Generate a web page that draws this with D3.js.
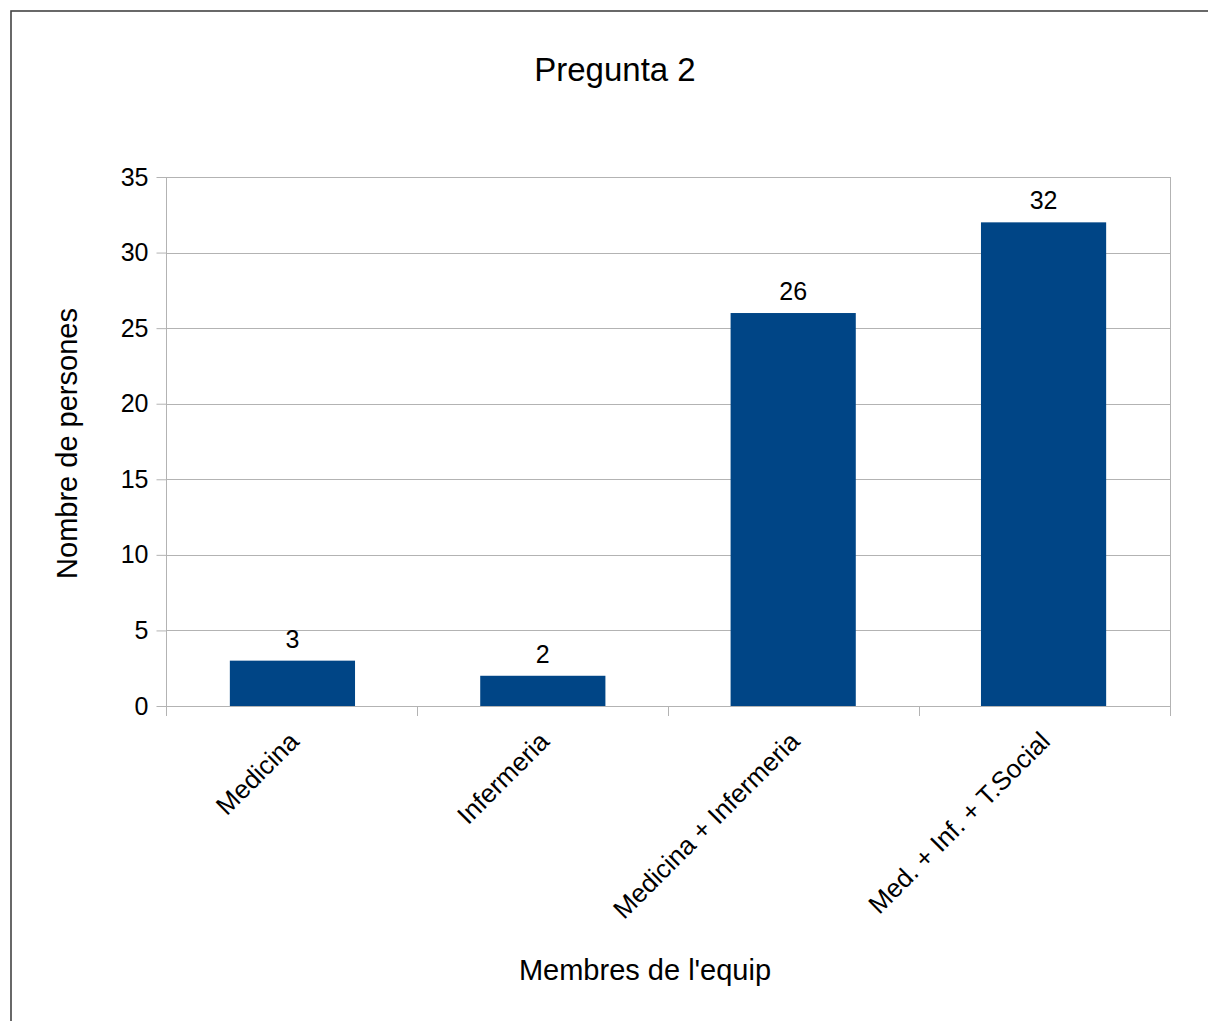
<!DOCTYPE html>
<html>
<head>
<meta charset="utf-8">
<script src="https://cdn.jsdelivr.net/npm/d3@7"></script>
<style>
  html, body { margin: 0; padding: 0; background: #fff; }
  svg { display: block; font-family: "Liberation Sans", Arial, sans-serif; }
</style>
</head>
<body>
<script>
// Survey answers: team members per respondent group
const categories = ["Medicina", "Infermeria", "Medicina + Infermeria", "Med. + Inf. + T.Social"];
const values = [3, 2, 26, 32];
const yTicks = [0, 5, 10, 15, 20, 25, 30, 35];
const chartTitle = "Pregunta 2";
const xTitle = "Membres de l'equip";
const yTitle = "Nombre de persones";

const W = 1208, H = 1021;
const plot = { left: 166, right: 1170, top: 177, bottom: 706 };

const svg = d3.select("body").append("svg")
  .attr("width", W).attr("height", H);

// outer frame (extends past the right and bottom edges)
svg.append("rect")
  .attr("x", 11).attr("y", 11)
  .attr("width", W + 20).attr("height", H + 20)
  .attr("fill", "#fff")
  .attr("stroke", "#444").attr("stroke-width", 1.6);

const x = d3.scaleBand()
  .domain(categories)
  .range([plot.left, plot.right])
  .paddingInner(0.5).paddingOuter(0.255);

const y = d3.scaleLinear().domain([0, 35]).range([plot.bottom, plot.top]);

const grid = "#b3b3b3";

// horizontal grid lines
svg.append("g").selectAll("line").data(yTicks).join("line")
  .attr("x1", plot.left).attr("x2", plot.right)
  .attr("y1", d => Math.round(y(d)) + 0.5).attr("y2", d => Math.round(y(d)) + 0.5)
  .attr("stroke", grid).attr("stroke-width", 1);

// right edge of plot area
svg.append("line")
  .attr("x1", plot.right + 0.5).attr("x2", plot.right + 0.5)
  .attr("y1", plot.top).attr("y2", plot.bottom + 10)
  .attr("stroke", grid);

// y axis
const yAxis = d3.axisLeft(y).tickValues(yTicks).tickSize(10).tickPadding(8);
const gy = svg.append("g").attr("transform", `translate(${plot.left + 0.5},0)`).call(yAxis);
gy.select(".domain").remove();
gy.selectAll(".tick line").attr("stroke", grid);
gy.selectAll(".tick text")
  .attr("font-size", 25).attr("fill", "#000")
  .attr("font-family", "Liberation Sans, Arial, sans-serif");
gy.append("line")
  .attr("x1", 0).attr("x2", 0)
  .attr("y1", plot.top).attr("y2", plot.bottom + 10)
  .attr("stroke", grid);

// x axis: ticks at category boundaries
const step = (plot.right - plot.left) / categories.length;
const boundaries = d3.range(categories.length + 1).map(i => plot.left + i * step);
svg.append("g").selectAll("line").data(boundaries).join("line")
  .attr("x1", d => Math.round(d) + 0.5).attr("x2", d => Math.round(d) + 0.5)
  .attr("y1", plot.bottom).attr("y2", plot.bottom + 10)
  .attr("stroke", grid);

// bars
svg.append("g").selectAll("rect").data(values).join("rect")
  .attr("x", (d, i) => x(categories[i]))
  .attr("y", d => y(d))
  .attr("width", x.bandwidth())
  .attr("height", d => y(0) - y(d))
  .attr("fill", "#004586");

// value labels
svg.append("g").selectAll("text").data(values).join("text")
  .attr("x", (d, i) => x(categories[i]) + x.bandwidth() / 2)
  .attr("y", d => y(d) - 13)
  .attr("text-anchor", "middle")
  .attr("font-size", 25).attr("fill", "#000")
  .text(d => d);

// rotated category labels
svg.append("g").selectAll("text").data(categories).join("text")
  .attr("transform", d => `translate(${x(d) + x.bandwidth() / 2 + 8},${plot.bottom + 37}) rotate(-45)`)
  .attr("text-anchor", "end")
  .attr("font-size", 26).attr("fill", "#000")
  .text(d => d);

// titles
svg.append("text")
  .attr("x", 615).attr("y", 81)
  .attr("text-anchor", "middle")
  .attr("font-size", 33).attr("fill", "#000")
  .text(chartTitle);

svg.append("text")
  .attr("x", 645).attr("y", 980)
  .attr("text-anchor", "middle")
  .attr("font-size", 29).attr("fill", "#000")
  .text(xTitle);

svg.append("text")
  .attr("transform", `translate(77,${(plot.top + plot.bottom) / 2 + 2}) rotate(-90)`)
  .attr("text-anchor", "middle")
  .attr("font-size", 29).attr("fill", "#000")
  .text(yTitle);
</script>
</body>
</html>
